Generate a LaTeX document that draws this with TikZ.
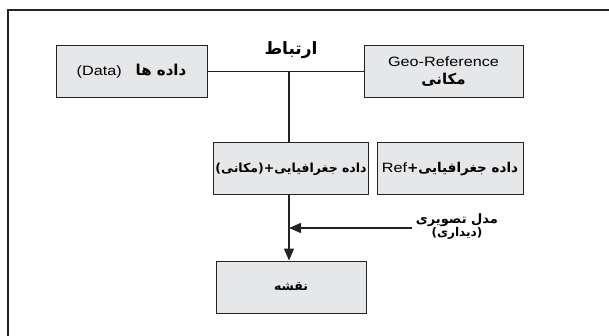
\documentclass[tikz,border=0pt]{standalone}
\usepackage{fontspec}
\setmainfont[FakeStretch=1.2]{Liberation Sans}
\newfontfamily\fa[Script=Arabic]{DejaVu Sans}
\TeXXeTstate=1
\usetikzlibrary{positioning, arrows.meta}
\definecolor{boxgray}{RGB}{230,231,233}
\definecolor{ink}{RGB}{35,35,35}
\newcommand{\fab}[1]{{\fa\bfseries\beginR #1\endR}}
\tikzset{
>={Triangle[length=12pt,width=10pt]}, % filled heads as in the sketch
box/.style={draw=ink, line width=1pt, fill=boxgray, minimum height=52pt, inner sep=2pt, font=\fontsize{13.5}{15}\selectfont}, % grey boxes
link/.style={draw=ink, line width=1.4pt}, % connectors
}
\begin{document}
\begin{tikzpicture}[x=1pt, y=-1pt]
    \clip (0,0) rectangle (609,336);
    \draw[ink, line width=2pt] (8,10) rectangle (640,360);
    \node[box, minimum width=151pt] (data) at (131.5,71.7) {(Data)\hspace{14pt}{\fontsize{15}{16}\selectfont\fab{داده ها}}};
    \node[box, minimum width=159pt, align=center] (geo) at (443.5,71.7) {Geo-Reference\\[3pt]{\fontsize{15}{16}\selectfont\fab{مکانی}}};
    \node[box, minimum width=150pt, font=\fontsize{12.5}{14}\selectfont] (mid) at (291,169) {\fab{داده جغرافیایی+(مکانی)}};
    \node[box, minimum width=146pt] (ref) at (450,169) {{\fa\bfseries\beginR داده جغرافیایی+\beginL{\normalfont Ref}\endL\endR}};
    \node[box, minimum width=150pt, font=\fontsize{12.5}{14}\selectfont] (map) at (291,287) {\fab{نقشه}};
    \node[font=\fontsize{17}{19}\selectfont] (link) at (291,50) {\fab{ارتباط}};
    \node[align=center, inner sep=1pt, font=\fontsize{13}{14}\selectfont] (vis) at (457,227) {\fab{مدل تصویری}\\[-1pt]{\fontsize{12}{13}\selectfont\fab{(دیداری)}}};
    \coordinate (hub) at (289,71.7);
    \coordinate (eye) at (412,228);
    \draw[link] (data.east) -- (geo.west);
    \draw[link] (hub) -- (hub |- mid.north);
    \draw[link, ->] (hub |- mid.south) -- (hub |- map.north);
    \draw[link, ->] (eye) -- (hub |- eye);
\end{tikzpicture}
\end{document}
